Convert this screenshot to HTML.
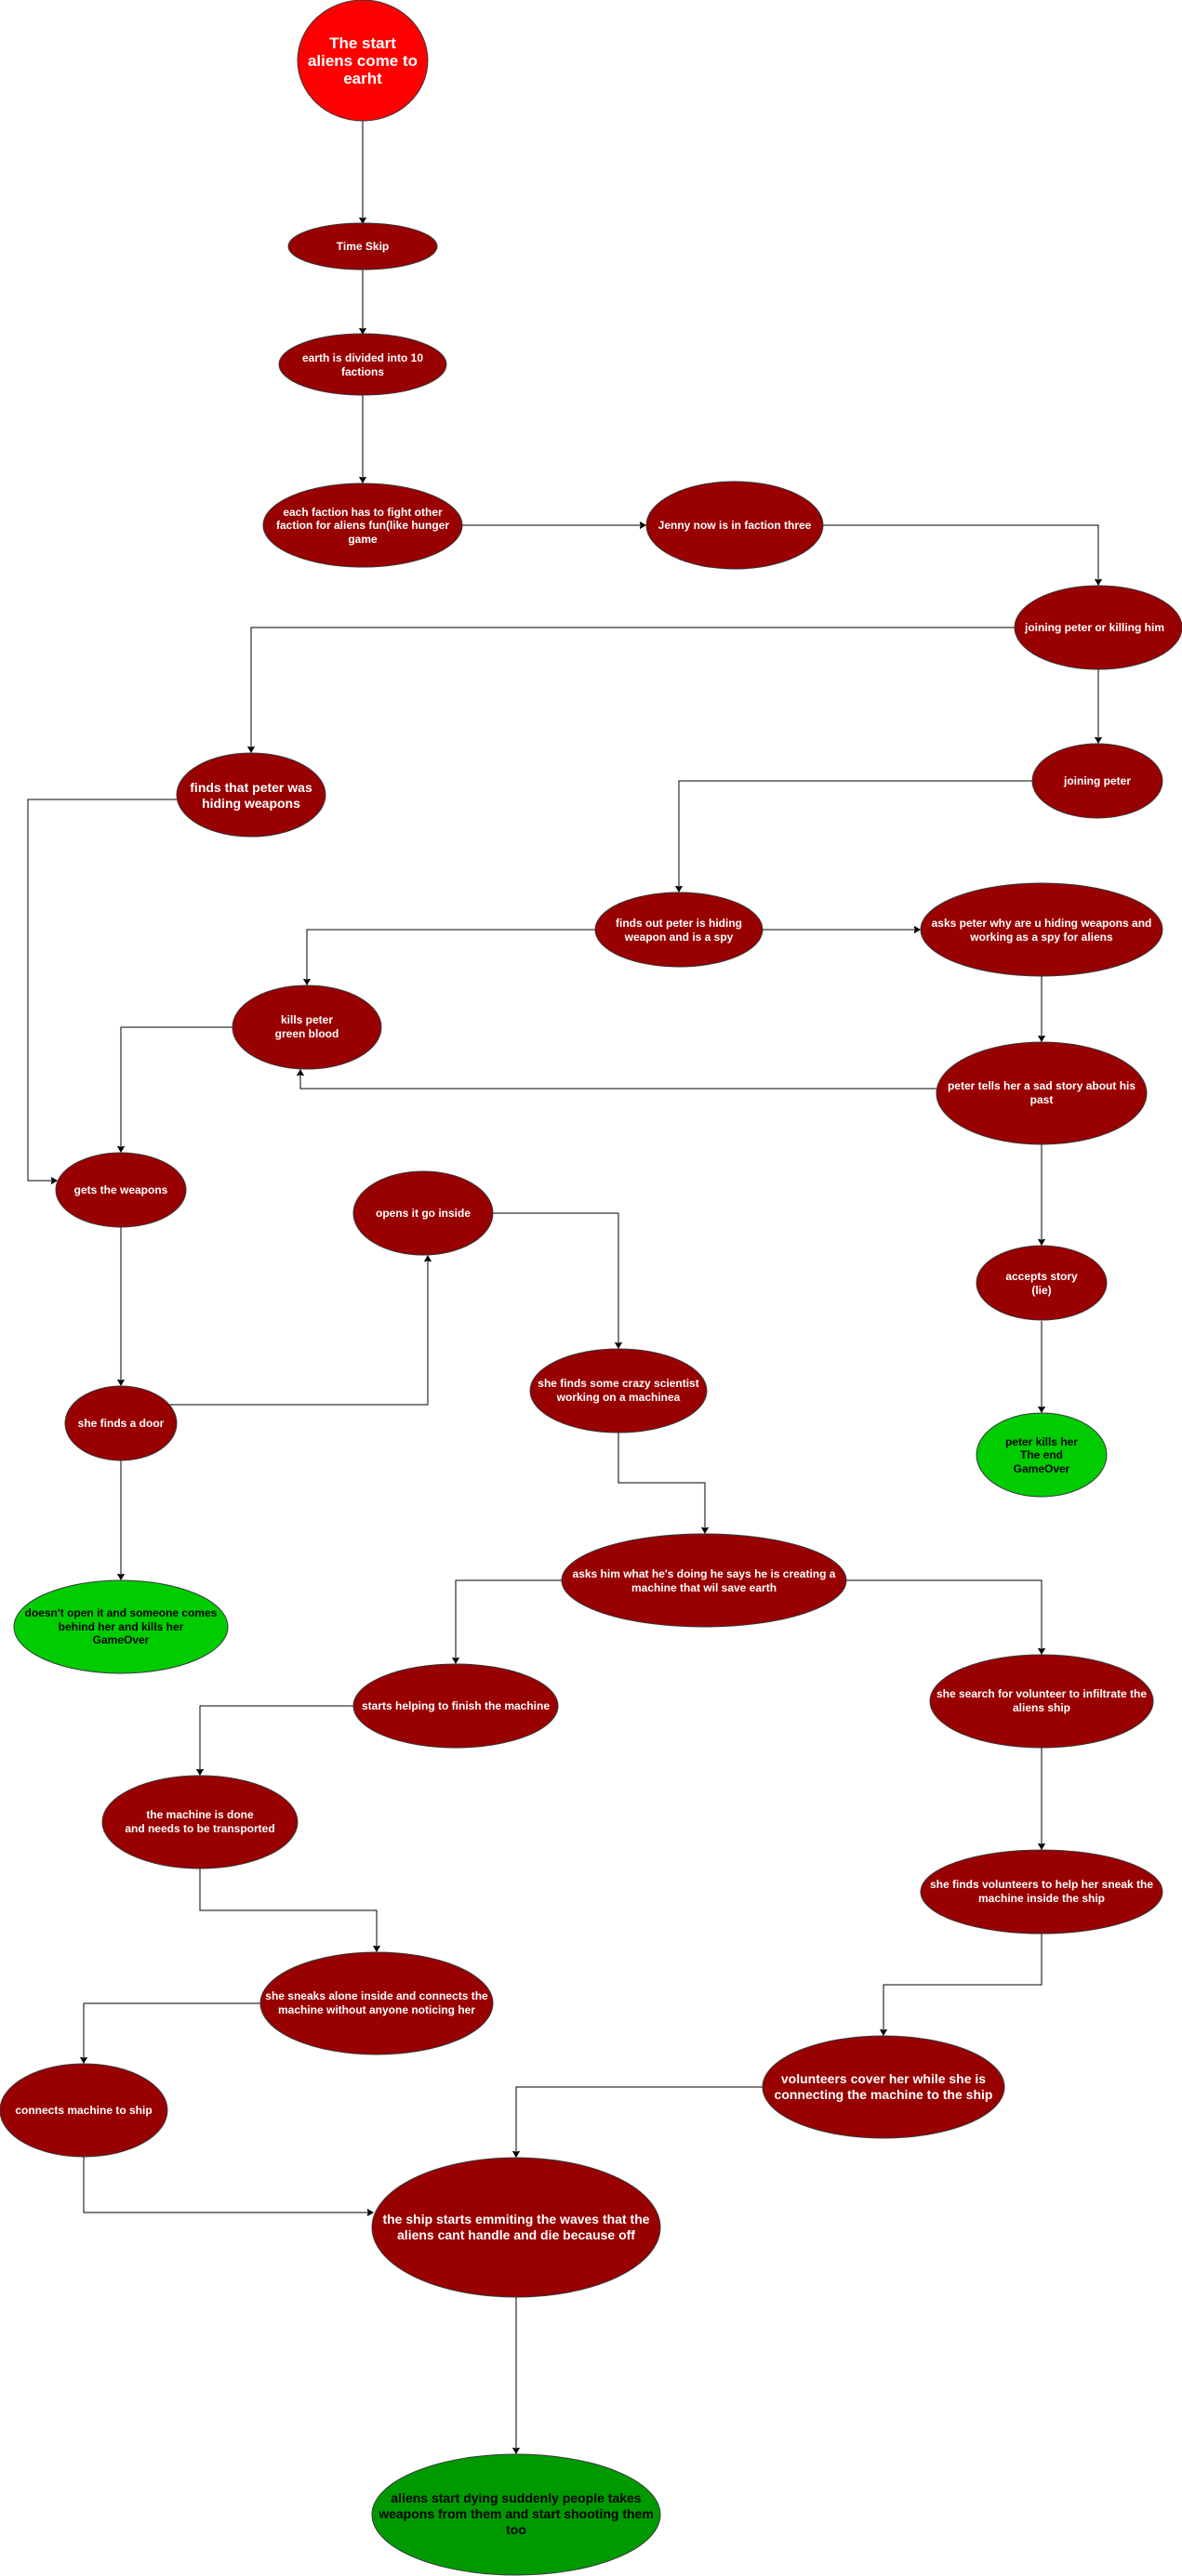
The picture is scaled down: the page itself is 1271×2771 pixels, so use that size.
<!DOCTYPE html>
<html><head><meta charset="utf-8"><style>
html,body{margin:0;padding:0;background:#fff}
svg{display:block}
text{font-family:"Liberation Sans",Arial,sans-serif;font-weight:bold;font-size:12px;fill:#fff;text-anchor:middle}
.b{fill:#000}
ellipse{stroke:#36393d;stroke-width:1}
.r{fill:#990000}
.g{fill:#00CC00}
.dg{fill:#009900}
path{fill:none;stroke:#000;stroke-width:1}
</style></head><body>
<svg width="1271" height="2771" viewBox="0 0 1271 2771" xmlns="http://www.w3.org/2000/svg">
<defs><marker id="a" markerWidth="8" markerHeight="8" refX="6" refY="4" orient="auto" markerUnits="userSpaceOnUse"><path d="M0,0.5 L6,4 L0,7.5 L1.5,4 Z" style="fill:#000;stroke:#000"/></marker></defs>

<path d="M390,130 V240" marker-end="url(#a)"/>
<path d="M390,290 V359" marker-end="url(#a)"/>
<path d="M390,425 V519" marker-end="url(#a)"/>
<path d="M497,565 H694" marker-end="url(#a)"/>
<path d="M885,565 H1181 V629" marker-end="url(#a)"/>
<path d="M1091,675 H270 V809" marker-end="url(#a)"/>
<path d="M1181,720 V799" marker-end="url(#a)"/>
<path d="M190,860 H30 V1270 H61" marker-end="url(#a)"/>
<path d="M1110,840 H730 V959" marker-end="url(#a)"/>
<path d="M640,1000 H330 V1059" marker-end="url(#a)"/>
<path d="M820,1000 H989" marker-end="url(#a)"/>
<path d="M1120,1050 V1120" marker-end="url(#a)"/>
<path d="M250,1105 H130 V1239" marker-end="url(#a)"/>
<path d="M1007,1171 H323 V1151" marker-end="url(#a)"/>
<path d="M1120,1231 V1339" marker-end="url(#a)"/>
<path d="M1120,1421 V1519" marker-end="url(#a)"/>
<path d="M130,1320 V1490" marker-end="url(#a)"/>
<path d="M182,1511 H460 V1351" marker-end="url(#a)"/>
<path d="M530,1305 H665 V1450" marker-end="url(#a)"/>
<path d="M665,1541 V1595 H758 V1649" marker-end="url(#a)"/>
<path d="M130,1571 V1699" marker-end="url(#a)"/>
<path d="M605,1700 H490 V1789" marker-end="url(#a)"/>
<path d="M910,1700 H1120 V1779" marker-end="url(#a)"/>
<path d="M380,1835 H215 V1909" marker-end="url(#a)"/>
<path d="M1120,1880 V1989" marker-end="url(#a)"/>
<path d="M215,2010 V2055 H405 V2099" marker-end="url(#a)"/>
<path d="M1120,2080 V2135 H950 V2189" marker-end="url(#a)"/>
<path d="M280,2155 H90 V2219" marker-end="url(#a)"/>
<path d="M820,2245 H555 V2320" marker-end="url(#a)"/>
<path d="M90,2320 V2380 H401" marker-end="url(#a)"/>
<path d="M555,2471 V2639" marker-end="url(#a)"/>

<ellipse cx="390" cy="65" rx="70" ry="65" style="fill:#FF0000"/>
<text x="390" y="52" style="font-size:17px">The start</text>
<text x="390" y="71" style="font-size:17px">aliens come to</text>
<text x="390" y="90" style="font-size:17px">earht</text>

<ellipse class="r" cx="390" cy="265" rx="80" ry="25"/>
<text x="390" y="269">Time Skip</text>

<ellipse class="r" cx="390" cy="392" rx="90" ry="33"/>
<text x="390" y="389">earth is divided into 10</text>
<text x="390" y="404">factions</text>

<ellipse class="r" cx="390" cy="565" rx="107" ry="45"/>
<text x="390" y="555">each faction has to fight other</text>
<text x="390" y="569">faction for aliens fun(like hunger</text>
<text x="390" y="584">game</text>

<ellipse class="r" cx="790" cy="565" rx="95" ry="47"/>
<text x="790" y="569">Jenny now is in faction three</text>

<ellipse class="r" cx="1181" cy="675" rx="90" ry="45"/>
<text x="1177" y="679">joining peter or killing him</text>

<ellipse class="r" cx="270" cy="855" rx="80" ry="45"/>
<text x="270" y="852" style="font-size:14px">finds that peter was</text>
<text x="270" y="869" style="font-size:14px">hiding weapons</text>

<ellipse class="r" cx="1180" cy="840" rx="70" ry="40"/>
<text x="1180" y="844">joining peter</text>

<ellipse class="r" cx="730" cy="1000" rx="90" ry="40"/>
<text x="730" y="997">finds out peter is hiding</text>
<text x="730" y="1012">weapon and is a spy</text>

<ellipse class="r" cx="1120" cy="1000" rx="130" ry="50"/>
<text x="1120" y="997">asks peter why are u hiding weapons and</text>
<text x="1120" y="1012">working as a spy for aliens</text>

<ellipse class="r" cx="330" cy="1105" rx="80" ry="45"/>
<text x="330" y="1101">kills peter</text>
<text x="330" y="1116">green blood</text>

<ellipse class="r" cx="1120" cy="1176" rx="113" ry="55"/>
<text x="1120" y="1172">peter tells her a sad story about his</text>
<text x="1120" y="1187">past</text>

<ellipse class="r" cx="130" cy="1280" rx="70" ry="40"/>
<text x="130" y="1284">gets the weapons</text>

<ellipse class="r" cx="455" cy="1305" rx="75" ry="45"/>
<text x="455" y="1309">opens it go inside</text>

<ellipse class="r" cx="1120" cy="1380" rx="70" ry="40"/>
<text x="1120" y="1377">accepts story</text>
<text x="1120" y="1392">(lie)</text>

<ellipse class="r" cx="665" cy="1496" rx="95" ry="45"/>
<text x="665" y="1492">she finds some crazy scientist</text>
<text x="665" y="1507">working on a machinea</text>

<ellipse class="r" cx="130" cy="1531" rx="60" ry="40"/>
<text x="130" y="1535">she finds a door</text>

<ellipse class="g" cx="1120" cy="1565" rx="70" ry="45"/>
<text class="b" x="1120" y="1555">peter kills her</text>
<text class="b" x="1120" y="1569">The end</text>
<text class="b" x="1120" y="1584">GameOver</text>

<ellipse class="g" cx="130" cy="1750" rx="115" ry="50"/>
<text class="b" x="130" y="1739">doesn't open it and someone comes</text>
<text class="b" x="130" y="1754">behind her and kills her</text>
<text class="b" x="130" y="1768">GameOver</text>

<ellipse class="r" cx="757" cy="1700" rx="153" ry="50"/>
<text x="757" y="1697">asks him what he's doing he says he is creating a</text>
<text x="757" y="1712">machine that wil save earth</text>

<ellipse class="r" cx="490" cy="1835" rx="110" ry="45"/>
<text x="490" y="1839">starts helping to finish the machine</text>

<ellipse class="r" cx="1120" cy="1830" rx="120" ry="50"/>
<text x="1120" y="1826">she search for volunteer to infiltrate the</text>
<text x="1120" y="1841">aliens ship</text>

<ellipse class="r" cx="215" cy="1960" rx="105" ry="50"/>
<text x="215" y="1956">the machine is done</text>
<text x="215" y="1971">and needs to be transported</text>

<ellipse class="r" cx="1120" cy="2035" rx="130" ry="45"/>
<text x="1120" y="2031">she finds volunteers to help her sneak the</text>
<text x="1120" y="2046">machine inside the ship</text>

<ellipse class="r" cx="405" cy="2155" rx="125" ry="55"/>
<text x="405" y="2151">she sneaks alone inside and connects the</text>
<text x="405" y="2166">machine without anyone noticing her</text>

<ellipse class="r" cx="90" cy="2270" rx="90" ry="50"/>
<text x="90" y="2274">connects machine to ship</text>

<ellipse class="r" cx="950" cy="2245" rx="130" ry="55"/>
<text x="950" y="2241" style="font-size:14px">volunteers cover her while she is</text>
<text x="950" y="2258" style="font-size:14px">connecting the machine to the ship</text>

<ellipse class="r" cx="555" cy="2396" rx="155" ry="75"/>
<text x="555" y="2392" style="font-size:14px">the ship starts emmiting the waves that the</text>
<text x="555" y="2409" style="font-size:14px">aliens cant handle and die because off</text>

<ellipse class="dg" cx="555" cy="2705" rx="155" ry="65"/>
<text class="b" x="555" y="2692" style="font-size:14px">aliens start dying suddenly people takes</text>
<text class="b" x="555" y="2709" style="font-size:14px">weapons from them and start shooting them</text>
<text class="b" x="555" y="2726" style="font-size:14px">too</text>
</svg>
</body></html>
